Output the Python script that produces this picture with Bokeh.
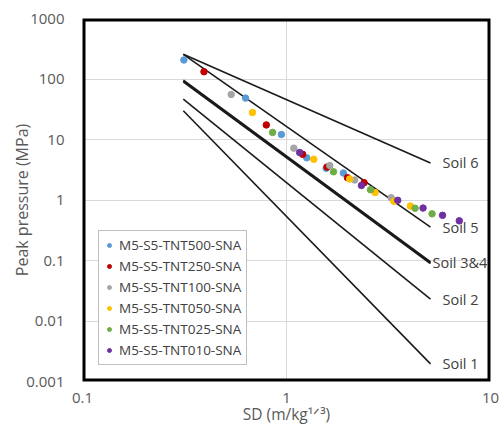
from bokeh.plotting import figure
from bokeh.models import FixedTicker, CustomJSTickFormatter
from bokeh.core.properties import value
from bokeh.embed import file_html
from bokeh.resources import INLINE

# ---- data ----
sd_500 = [0.314, 0.630, 0.944, 1.257, 1.565, 1.90]
p_500 = [206, 48.3, 12.1, 4.98, 3.35, 2.79]
sd_250 = [0.394, 0.796, 1.20, 1.58, 1.99, 2.40]
p_250 = [132, 17.4, 5.69, 3.50, 2.34, 1.93]
sd_100 = [0.536, 1.086, 1.63, 2.16, 3.26]
p_100 = [55.6, 7.19, 3.71, 2.14, 1.09]
sd_050 = [0.681, 1.36, 2.04, 2.72, 3.36, 4.05]
p_050 = [27.9, 4.71, 2.22, 1.33, 0.953, 0.794]
sd_025 = [0.855, 1.70, 2.58, 4.27, 5.17]
p_025 = [13.1, 2.93, 1.48, 0.730, 0.590]
sd_010 = [1.16, 2.33, 3.51, 4.67, 5.82, 7.03]
p_010 = [6.09, 1.74, 0.989, 0.736, 0.558, 0.453]

series_names = ["M5-S5-TNT500-SNA", "M5-S5-TNT250-SNA", "M5-S5-TNT100-SNA",
                "M5-S5-TNT050-SNA", "M5-S5-TNT025-SNA", "M5-S5-TNT010-SNA"]

soil_sd = [0.312, 5.08]
soil_6 = [256, 4.1]
soil_5 = [256, 0.356]
soil_3 = [95, 0.094]
soil_4 = [90, 0.089]
soil_2 = [46.6, 0.023]
soil_1 = [29.8, 0.00196]
soil_labels = ["Soil 6", "Soil 5", "Soil 2", "Soil 1"]
soil_label_34 = "Soil 3&4"

x_ticks = [0.1, 1, 10]
y_ticks = [0.001, 0.01, 0.1, 1, 10, 100, 1000]

# ---- styles ----
colors = ["#5B9BD5", "#C00000", "#A5A5A5", "#FFC000", "#70AD47", "#7030A0"]
txt_col = "#595959"
font = "Open Sans"

p = figure(width=500, height=427, x_axis_type="log", y_axis_type="log",
           x_range=(x_ticks[0], x_ticks[-1]), y_range=(y_ticks[0], y_ticks[-1]),
           output_backend="svg", toolbar_location=None,
           min_border_left=82, min_border_right=10, min_border_top=18,
           min_border_bottom=44)

p.outline_line_color = None
p.background_fill_color = "white"

for ax in (p.xaxis[0], p.yaxis[0]):
    ax.axis_line_color = None
    ax.major_tick_line_color = None
    ax.minor_tick_line_color = None
    ax.major_tick_out = 0
    ax.major_tick_in = 0
    ax.minor_tick_out = 0
    ax.minor_tick_in = 0
    ax.major_label_text_font = font
    ax.major_label_text_font_size = "15px"
    ax.major_label_text_color = txt_col
    ax.axis_label_text_font = font
    ax.axis_label_text_font_size = "16px"
    ax.axis_label_text_font_style = "normal"
    ax.axis_label_text_color = txt_col
    ax.formatter = CustomJSTickFormatter(code="return tick.toString();")

p.xaxis.ticker = FixedTicker(ticks=x_ticks)
p.yaxis.ticker = FixedTicker(ticks=y_ticks)
p.xaxis.axis_label = "SD (m/kg\u00b9\u141f\u00b3)"
p.yaxis.axis_label = "Peak pressure (MPa)"
p.xaxis.major_label_standoff = 11
p.xaxis.axis_label_standoff = -3
p.xaxis.axis_label_text_font_size = "15.5px"
p.yaxis.major_label_standoff = 18
p.yaxis.axis_label_standoff = -10

p.xgrid.ticker = FixedTicker(ticks=x_ticks)
p.ygrid.ticker = FixedTicker(ticks=y_ticks)
p.grid.grid_line_color = "#d9d9d9"
p.grid.grid_line_width = 1

# frame border drawn as a glyph (half of it is clipped by the frame)
p.quad(left=[x_ticks[0]], right=[x_ticks[-1]], bottom=[y_ticks[0]], top=[y_ticks[-1]],
       fill_color=None, line_color="black", line_width=6)

# soil lines
for ys, w in [(soil_6, 1.6), (soil_5, 1.6), (soil_3, 2), (soil_4, 2), (soil_2, 1.6), (soil_1, 1.6)]:
    p.line(soil_sd, ys, line_color="#1a1a1a", line_width=w)

p.text(x=[soil_sd[1]] * 4, y=[soil_6[1], soil_5[1], soil_2[1], soil_1[1]], text=soil_labels,
       x_offset=12, text_font=value(font), text_font_size="14.5px", text_color="#404040",
       text_baseline="middle", text_align="left")
p.text(x=[soil_sd[1]], y=[(soil_3[1] * soil_4[1]) ** 0.5], text=[soil_label_34],
       x_offset=2, text_font=value(font), text_font_size="14.5px", text_color="#404040",
       text_baseline="middle", text_align="left")

# data series
series = [(sd_500, p_500), (sd_250, p_250), (sd_100, p_100),
          (sd_050, p_050), (sd_025, p_025), (sd_010, p_010)]
for (xs, ys), c, name in zip(series, colors, series_names):
    p.scatter(xs, ys, size=6.5, fill_color=c, line_color=c, legend_label=name)

lg = p.legend[0]
lg.location = (16, 16)
lg.border_line_color = "#7f7f7f"
lg.border_line_width = 1
lg.background_fill_color = "white"
lg.background_fill_alpha = 1
lg.label_text_font = font
lg.label_text_font_size = "13.5px"
lg.label_text_color = "#404040"
lg.glyph_width = 10
lg.glyph_height = 16
lg.label_height = 16
lg.spacing = 3
lg.padding = 5
lg.margin = 0
lg.label_standoff = 5

open("out.html", "w").write(file_html(p, INLINE))
